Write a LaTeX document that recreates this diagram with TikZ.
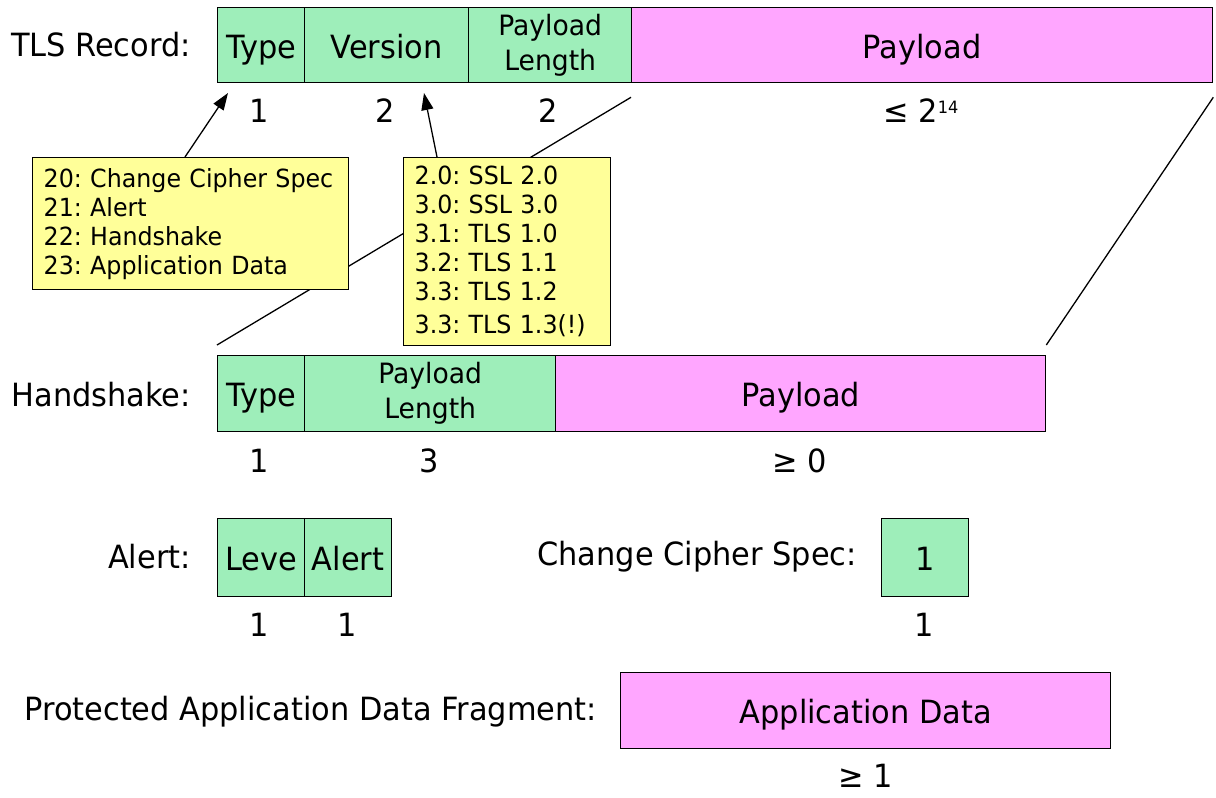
\documentclass[tikz,border=0pt]{standalone}
\usepackage{fontspec}
\setmainfont[FakeStretch=0.95]{DejaVu Sans}
\usetikzlibrary{arrows.meta,calc}
\definecolor{fgreen}{HTML}{9EEEBA}
\definecolor{fpink}{HTML}{FFA6FF}
\definecolor{fyellow}{HTML}{FFFF99}
\frenchspacing
\begin{document}
\begin{tikzpicture}[x=1pt,y=-1pt,
  fieldbox/.style={draw=black,line width=1.3pt,inner sep=0pt,anchor=north west,
    font=\fontsize{32}{36}\selectfont,align=center},
  onel/.style={text height=26pt,text depth=0pt},
  gbox/.style={fieldbox,fill=fgreen},
  pbox/.style={fieldbox,fill=fpink},
  twoline/.style={font=\fontsize{28}{35}\selectfont},
  lbl/.style={inner sep=0pt,font=\fontsize{32}{36}\selectfont},
  note/.style={draw=black,line width=1.3pt,fill=fyellow,anchor=north west,inner xsep=11pt,inner ysep=0pt,
    align=left,font=\fontsize{25}{29}\selectfont},
  conn/.style={line width=1.3pt},
  arr/.style={line width=1.3pt,-{Triangle[length=17pt,width=12pt]}}]
\useasboundingbox (0,0) rectangle (1216,798);

% TLS record
\node[lbl,anchor=east] (lrec) at (191,45) {TLS Record:};
\node[gbox,onel,minimum width=87,minimum height=75] (rtype) at (217,7) {Type};
\node[gbox,onel,minimum width=164,minimum height=75] (rver) at (304,7) {Version};
\node[gbox,twoline,minimum width=163,minimum height=75] (rlen) at (468,7) {Payload\\Length};
\node[pbox,onel,minimum width=581,minimum height=75] (rpay) at (631,7) {Payload};
\node[lbl] (n1) at (259,111) {1};
\node[lbl] (n2) at (385,111) {2};
\node[lbl] (n3) at (548,111) {2};
\node[lbl] (n4) at (921,111) {≤ 2{\fontsize{17}{17}\selectfont\raisebox{9pt}{14}}};

% handshake
\node[lbl,anchor=east] (lhs) at (191,395) {Handshake:};
\node[gbox,onel,minimum width=87,minimum height=76] (htype) at (217,355) {Type};
\node[gbox,twoline,minimum width=251,minimum height=76] (hlen) at (304,355) {Payload\\Length};
\node[pbox,onel,minimum width=490,minimum height=76] (hpay) at (555,355) {Payload};
\node[lbl] (h1) at (259,461) {1};
\node[lbl] (h2) at (429,461) {3};
\node[lbl] (h3) at (800,461) {≥ 0};

% expansion lines
\coordinate (c1) at ($(rpay.south west)+(0,14)$);
\coordinate (c2) at ($(htype.north west)+(0,-10)$);
\coordinate (c3) at ($(rpay.south east)+(0,14)$);
\coordinate (c4) at ($(hpay.north east)+(0,-10)$);
\draw[conn] (c1) -- (c2);
\draw[conn] (c3) -- (c4);

% notes
\node[note,text width=294pt,minimum height=132] (y1) at (32,157)
  {20: Change Cipher Spec\\21: Alert\\22: Handshake\\23: Application Data};
\node[note,text width=185pt,minimum height=188] (y2) at (403,157)
  {2.0: SSL 2.0\\3.0: SSL 3.0\\3.1: TLS 1.0\\3.2: TLS 1.1\\3.3: TLS 1.2\\[4pt]3.3: TLS 1.3(!)};
\coordinate (a1s) at ($(y1.north west)+(153,0)$);
\coordinate (a1e) at (228,93);
\coordinate (a2s) at ($(y2.north west)+(34,0)$);
\coordinate (a2e) at (424,93);
\draw[arr] (a1s) -- (a1e);
\draw[arr] (a2s) -- (a2e);

% alert
\node[lbl,anchor=east] (lal) at (191,557) {Alert:};
\node[gbox,onel,minimum width=87,minimum height=78] (alev) at (217,518) {Leve};
\node[gbox,onel,minimum width=87,minimum height=78] (aal) at (304,518) {Alert};
\node[lbl] (a1) at (259,625) {1};
\node[lbl] (a2) at (347,625) {1};

% change cipher spec
\node[lbl,anchor=east] (lccs) at (857,557) {Change Cipher Spec:};
\node[gbox,onel,minimum width=87,minimum height=78] (ccs) at (881,518) {1};
\node[lbl] (c1n) at (924,625) {1};

% application data
\node[lbl,anchor=east] (lapp) at (597,712) {Protected Application Data Fragment:};
\node[pbox,onel,minimum width=490,minimum height=76] (app) at (620,672) {Application Data};
\node[lbl] (ap1) at (866,776) {≥ 1};
\end{tikzpicture}
\end{document}
